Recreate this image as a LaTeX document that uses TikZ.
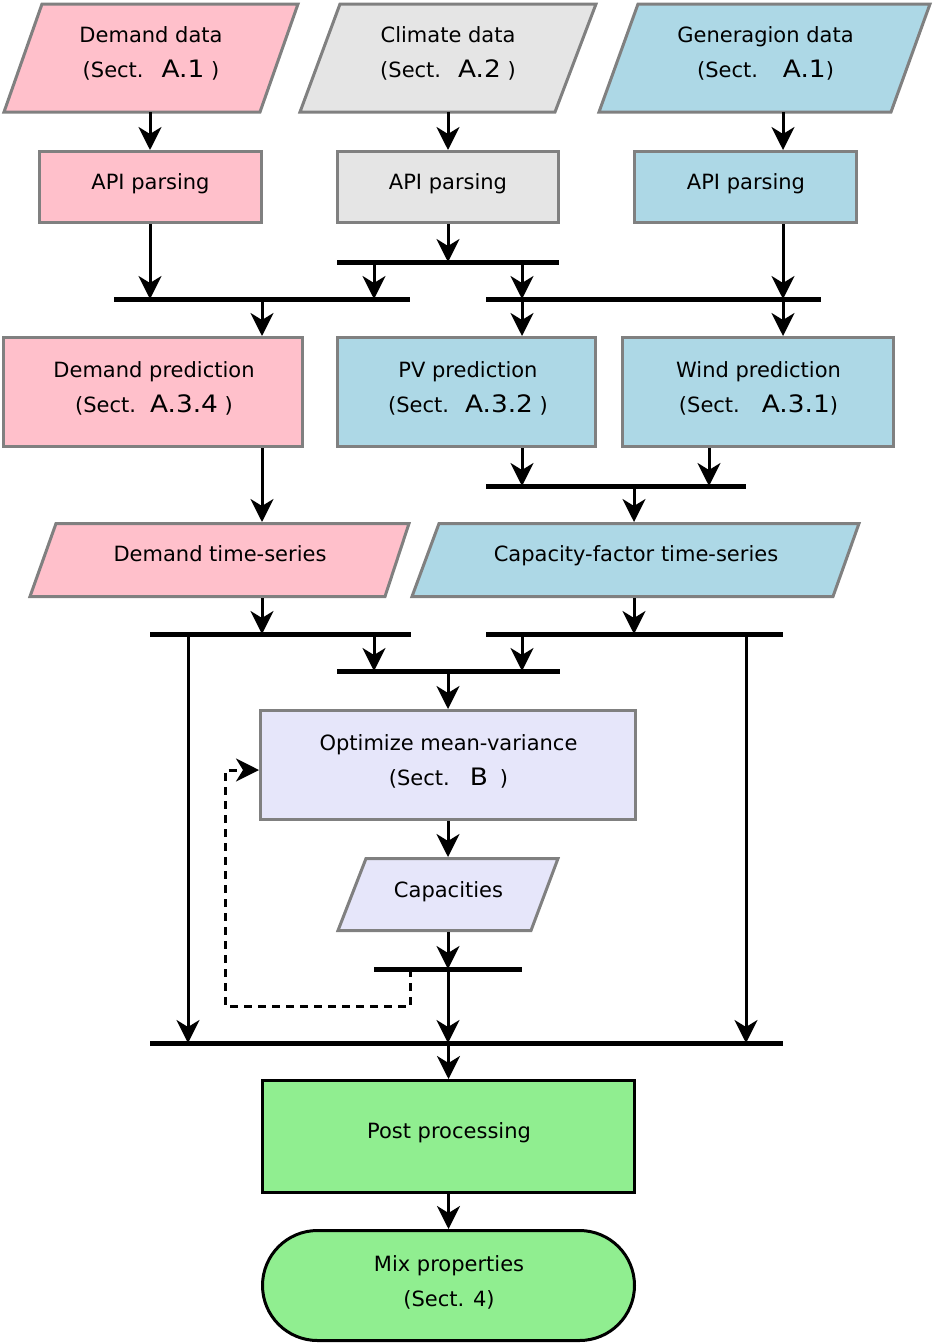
\documentclass[tikz,border=0pt]{standalone}
\usepackage{fontspec}
\setmainfont{DejaVu Sans}
\newfontfamily\widefont{DejaVu Sans}[FakeStretch=1.1]
\usetikzlibrary{arrows.meta,calc}
\definecolor{cpink}{HTML}{FFC0CB}
\definecolor{cgray}{HTML}{E5E5E5}
\definecolor{cblue}{HTML}{ADD8E6}
\definecolor{clav}{HTML}{E6E6FA}
\definecolor{cgreen}{HTML}{90EE90}
\definecolor{bord}{HTML}{808080}
\newcommand\sref[1]{{\widefont\fontsize{24}{24}\selectfont #1}}
\begin{document}
\begin{tikzpicture}[x=1pt,y=-1pt,
  shp/.style={draw=bord,line width=3pt,inner sep=0pt,line join=miter},
  txt/.style={anchor=base,align=center,inner sep=0pt,font=\fontsize{21}{35}\selectfont},
  arr/.style={line width=3pt,-{Stealth[length=23pt,width=23pt,inset=7pt]}},
  bar/.style={line width=5pt},
  dsh/.style={arr,dash pattern=on 8pt off 6pt}]
\useasboundingbox (0,0) rectangle (936,1344);

% ---- input data (parallelograms)
\filldraw[shp,fill=cpink] (42,4) -- (298,4) -- (260,112) -- (4,112) -- cycle;
\filldraw[shp,fill=cgray] (340,4) -- (596,4) -- (555,112) -- (300,112) -- cycle;
\filldraw[shp,fill=cblue] (638,4) -- (930,4) -- (891,112) -- (599,112) -- cycle;
% two-line texts: anchor=base is the baseline of the last line
\node[txt] (dd) at (151,77) {Demand data\\(Sect.\hspace{18pt}\sref{A.1} )};
\node[txt] (cd) at (448,77) {Climate data\\(Sect.\hspace{17pt}\sref{A.2} )};
\node[txt] (gd) at (765.5,77) {Generagion data\\(Sect.\hspace{25pt}\sref{A.1})};
\coordinate (dd-out) at (150,112);
\coordinate (cd-out) at (448,112);
\coordinate (gd-out) at (783,112);

% ---- API parsing
\node[shp,fill=cpink,minimum width=222pt,minimum height=71pt] (dapi) at (150.5,187) {};
\node[shp,fill=cgray,minimum width=221pt,minimum height=71pt] (capi) at (448,187) {};
\node[shp,fill=cblue,minimum width=222pt,minimum height=71pt] (gapi) at (745.5,187) {};
\node[txt] (dapi-t) at (150.5,189) {API parsing};
\node[txt] (capi-t) at (448,189) {API parsing};
\node[txt] (gapi-t) at (746,189) {API parsing};

% ---- predictions
\node[shp,fill=cpink,minimum width=299pt,minimum height=109pt] (dpred) at (153,392) {};
\node[shp,fill=cblue,minimum width=258pt,minimum height=109pt] (pv) at (466.5,392) {};
\node[shp,fill=cblue,minimum width=271pt,minimum height=109pt] (wind) at (758,392) {};
\node[txt] (dpred-t) at (154,412) {Demand prediction\\(Sect.\hspace{14pt}\sref{A.3.4} )};
\node[txt] (pv-t) at (468,412) {PV prediction\\(Sect.\hspace{16pt}\sref{A.3.2} )};
\node[txt] (wind-t) at (758.5,412) {Wind prediction\\(Sect.\hspace{22pt}\sref{A.3.1})};

% ---- time series
\filldraw[shp,fill=cpink] (56,523.5) -- (409,523.5) -- (385,596.5) -- (30,596.5) -- cycle;
\filldraw[shp,fill=cblue] (439,523.5) -- (859,523.5) -- (833,596.5) -- (412,596.5) -- cycle;
\node[txt] (dts) at (220,561) {Demand time-series};
\node[txt] (cfts) at (636,561) {Capacity-factor time-series};
\coordinate (dts-in) at (262,522);
\coordinate (dts-out) at (262,598);
\coordinate (cf-in) at (634,522);
\coordinate (cf-out) at (634,598);

% ---- optimisation
\node[shp,fill=clav,minimum width=375pt,minimum height=109pt] (opt) at (448,765) {};
\node[txt] (opt-t) at (448.5,785) {Optimize mean-variance\\(Sect.\hspace{20pt}\sref{B}\hspace{12pt})};
\filldraw[shp,fill=clav] (366,858.5) -- (558,858.5) -- (531,930.5) -- (338,930.5) -- cycle;
\node[txt] (cap) at (448.5,897) {Capacities};
\coordinate (cap-in) at (448,857);
\coordinate (cap-out) at (448,932);

% ---- output
\node[shp,draw=black,fill=cgreen,minimum width=372pt,minimum height=112pt] (post) at (448.5,1136.5) {};
\node[txt] (post-t) at (449,1138) {Post processing};
\node[shp,draw=black,fill=cgreen,rounded corners=55pt,minimum width=372pt,minimum height=110pt] (mix) at (448.5,1285.5) {};
\node[txt] (mix-t) at (449,1306) {Mix properties\\(Sect. 4)};

% ---- bars (coordinates)
\coordinate (b1) at (337,262);   \coordinate (b1e) at (559,262);
\coordinate (b2L) at (114,299);  \coordinate (b2Le) at (410,299);
\coordinate (b2R) at (486,299);  \coordinate (b2Re) at (821,299);
\coordinate (b3) at (486,486);   \coordinate (b3e) at (746,486);
\coordinate (b4L) at (150,634);  \coordinate (b4Le) at (411,634);
\coordinate (b4R) at (486,634);  \coordinate (b4Re) at (783,634);
\coordinate (b5) at (337,671);   \coordinate (b5e) at (560,671);
\coordinate (b6) at (374,969);   \coordinate (b6e) at (522,969);
\coordinate (b7) at (150,1043);  \coordinate (b7e) at (783,1043);
% tap points
\coordinate (tA) at (374,262);
\coordinate (tB) at (522,262);
\coordinate (tC) at (262,299);
\coordinate (tD) at (709,486);
\coordinate (tE) at (634,486);
\coordinate (tF) at (188,634);
\coordinate (tG) at (746,634);
\coordinate (tH) at (410.5,969);

% ---- connectors
\draw[arr] (dd-out) -- (dd-out |- dapi.north);
\draw[arr] (cd-out) -- (cd-out |- capi.north);
\draw[arr] (gd-out) -- (gd-out |- gapi.north);
\draw[arr] (dd-out |- dapi.south) -- (dd-out |- b2L);
\draw[arr] (cd-out |- capi.south) -- (cd-out |- b1);
\draw[arr] (gd-out |- gapi.south) -- (gd-out |- b2R);
\draw[arr] (tA) -- (tA |- b2L);
\draw[arr] (tB) -- (tB |- b2R);
\draw[arr] (tC) -- (tC |- dpred.north);
\draw[arr] (tB |- b2R) -- (tB |- pv.north);
\draw[arr] (gd-out |- b2R) -- (gd-out |- wind.north);
\draw[arr] (tC |- dpred.south) -- (dts-in);
\draw[arr] (tB |- pv.south) -- (tB |- b3);
\draw[arr] (tD |- wind.south) -- (tD);
\draw[arr] (tE) -- (cf-in);
\draw[arr] (dts-out) -- (dts-out |- b4L);
\draw[arr] (cf-out) -- (cf-out |- b4R);
\draw[arr] (tF) -- (tF |- b7);
\draw[arr] (tG) -- (tG |- b7);
\draw[arr] (tA |- b4L) -- (tA |- b5);
\draw[arr] (tB |- b4R) -- (tB |- b5);
\draw[arr] (opt.north |- b5) -- (opt.north);
\draw[arr] (opt.south) -- (cap-in);
\draw[arr] (cap-out) -- (cap-out |- b6);
\draw[arr] (cap-out |- b6) -- (cap-out |- b7);
\draw[dsh] (tH) -- ++(0,37) -- ++(-185.5,0) |- ([yshift=-5pt]opt.west);
\draw[arr] (post.north |- b7) -- (post.north);
\draw[arr] (post.south) -- (mix.north);

% ---- bars
\draw[bar] (b1) -- (b1e);
\draw[bar] (b2L) -- (b2Le);
\draw[bar] (b2R) -- (b2Re);
\draw[bar] (b3) -- (b3e);
\draw[bar] (b4L) -- (b4Le);
\draw[bar] (b4R) -- (b4Re);
\draw[bar] (b5) -- (b5e);
\draw[bar] (b6) -- (b6e);
\draw[bar] (b7) -- (b7e);
\end{tikzpicture}
\end{document}
